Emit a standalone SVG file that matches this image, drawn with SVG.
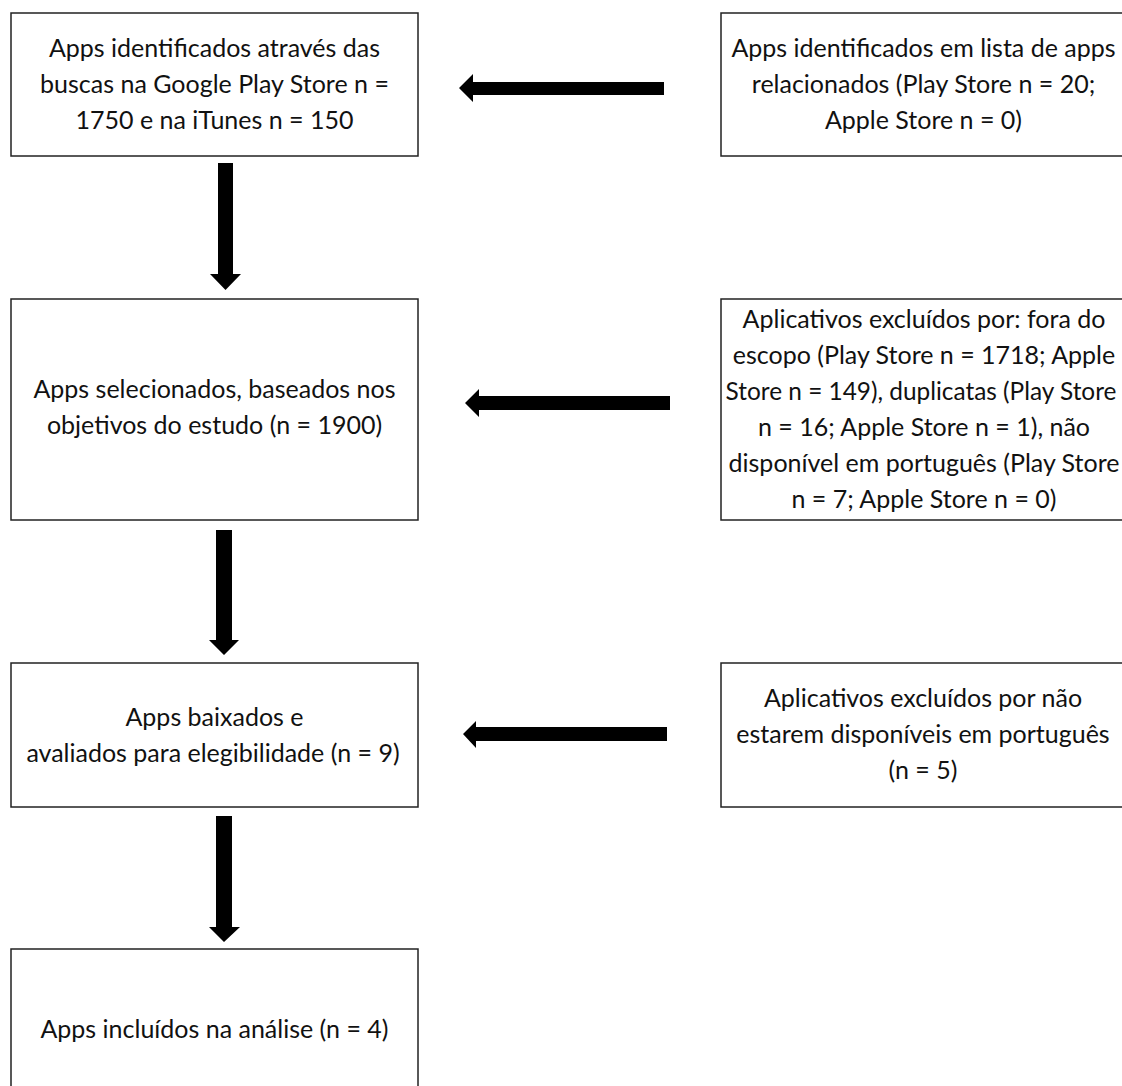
<svg xmlns="http://www.w3.org/2000/svg" width="1122" height="1086" viewBox="0 0 1122 1086">
<style>
.box{fill:#fff;stroke:#222;stroke-width:1.5}
.t{font-family:Lato,"Open Sans",sans-serif;font-size:25px;fill:#111;text-anchor:middle}
.arr{fill:#000}
</style>
<rect width="1122" height="1086" fill="#fff"/>
<g id="connectors">
<polygon class="arr" points="218,163 233,163 233,274 241,274 225.5,290 210,274 218,274"/>
<polygon class="arr" points="216,530 232,530 232,640 239,640 224,655 209,640 216,640"/>
<polygon class="arr" points="216,816 232,816 232,927 240,927 224,942 209,927 216,927"/>
<polygon class="arr" points="664,82 664,95 473,95 473,102 459,88 473,74 473,82"/>
<polygon class="arr" points="670,396 670,410 479,410 479,417 465,403 479,389 479,396"/>
<polygon class="arr" points="667,727 667,741 476,741 476,748 463,734 476,721 476,727"/>
</g>
<g id="node1">
<rect class="box" x="11" y="13" width="407" height="143"/>
<text class="t" x="214.5" y="57">Apps identificados através das</text>
<text class="t" x="214.5" y="93">buscas na Google Play Store n =</text>
<text class="t" x="214.5" y="129">1750 e na iTunes n = 150</text>
</g>
<g id="node2">
<rect class="box" x="721" y="13" width="410" height="143"/>
<text class="t" x="923.5" y="57">Apps identificados em lista de apps</text>
<text class="t" x="923.5" y="93">relacionados (Play Store n = 20;</text>
<text class="t" x="923.5" y="129">Apple Store n = 0)</text>
</g>
<g id="node3">
<rect class="box" x="11" y="299" width="407" height="221"/>
<text class="t" x="214.5" y="398">Apps selecionados, baseados nos</text>
<text class="t" x="214.5" y="434">objetivos do estudo (n = 1900)</text>
</g>
<g id="node4">
<rect class="box" x="721" y="299" width="410" height="221"/>
<text class="t" x="924" y="328">Aplicativos excluídos por: fora do</text>
<text class="t" x="924" y="364">escopo (Play Store n = 1718; Apple</text>
<text class="t" x="921" y="400" style="font-size:24.4px">Store n = 149), duplicatas (Play Store</text>
<text class="t" x="924" y="436">n = 16; Apple Store n = 1), não</text>
<text class="t" x="924" y="472">disponível em português (Play Store</text>
<text class="t" x="924" y="508">n = 7; Apple Store n = 0)</text>
</g>
<g id="node5">
<rect class="box" x="11" y="663" width="407" height="144"/>
<text class="t" x="214.5" y="726">Apps baixados e</text>
<text class="t" x="213" y="762">avaliados para elegibilidade (n = 9)</text>
</g>
<g id="node6">
<rect class="box" x="721" y="663" width="410" height="144"/>
<text class="t" x="923" y="707">Aplicativos excluídos por não</text>
<text class="t" x="923" y="743">estarem disponíveis em português</text>
<text class="t" x="923" y="779">(n = 5)</text>
</g>
<g id="node7">
<rect class="box" x="11" y="949" width="407" height="150"/>
<text class="t" x="214.5" y="1038">Apps incluídos na análise (n = 4)</text>
</g>
</svg>
